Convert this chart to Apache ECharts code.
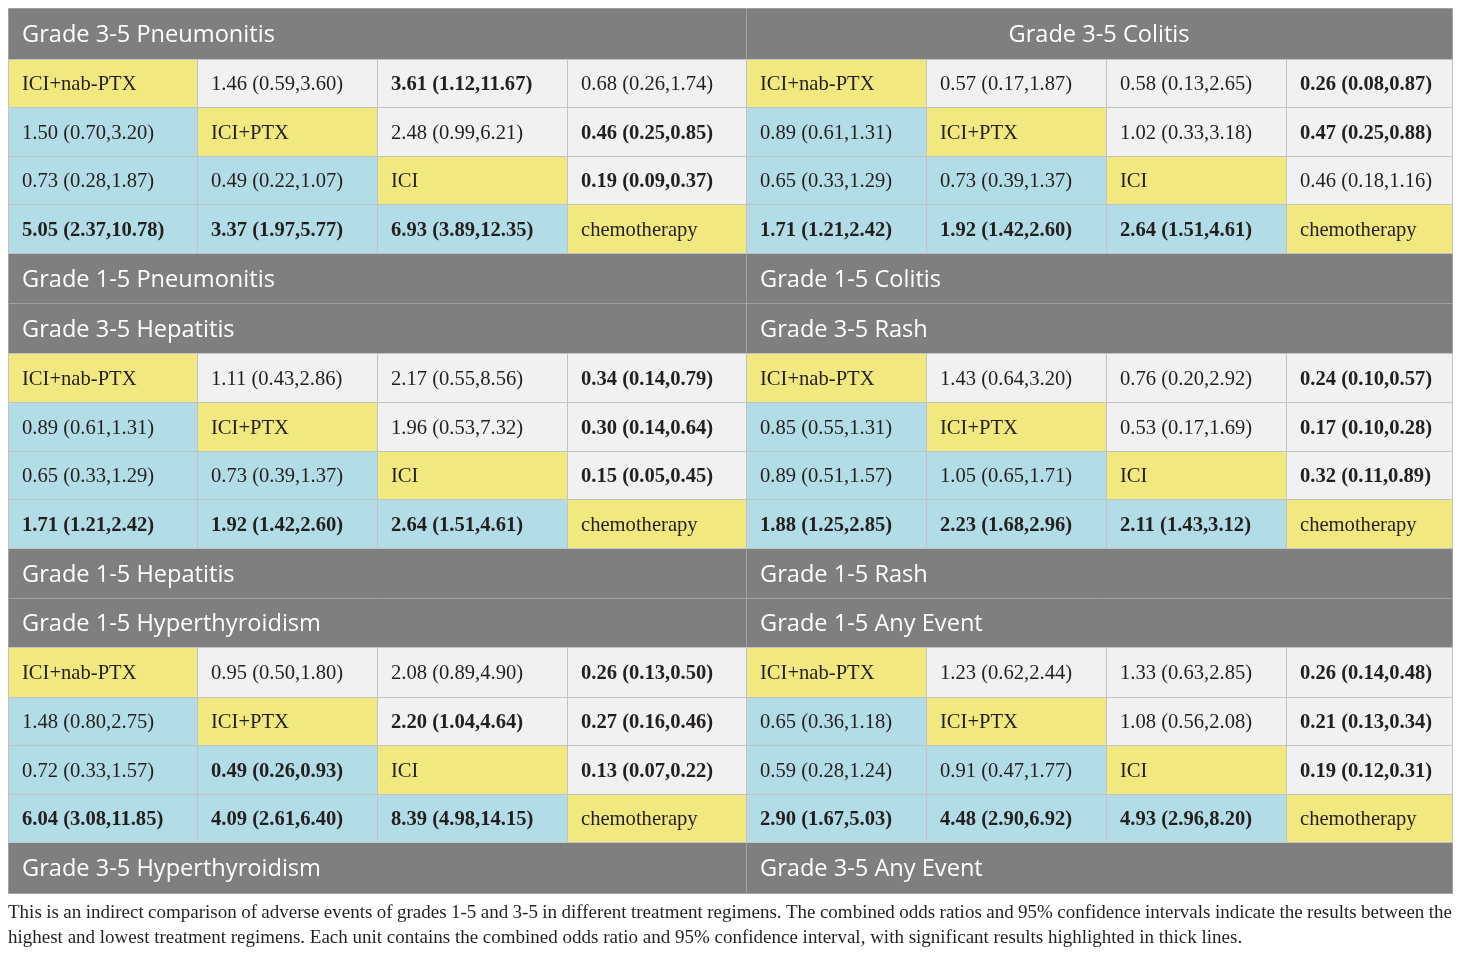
<!DOCTYPE html>
<html><head><meta charset="utf-8">
<script src="https://cdn.jsdelivr.net/npm/echarts@6/dist/echarts.min.js"></script>
<style>html,body{margin:0;padding:0;background:#fff}#c{width:1460px;height:955px}</style>
</head><body><div id="c"></div>
<script>
// ---------- DATA ----------
const treatments = ['ICI+nab-PTX', 'ICI+PTX', 'ICI', 'chemotherapy'];

// titles: [top header, bottom header] for each block
const leftTitles = [
  ['Grade 3-5 Pneumonitis', 'Grade 1-5 Pneumonitis'],
  ['Grade 3-5 Hepatitis', 'Grade 1-5 Hepatitis'],
  ['Grade 1-5 Hyperthyroidism', 'Grade 3-5 Hyperthyroidism']
];
const rightTitles = [
  ['Grade 3-5 Colitis', 'Grade 1-5 Colitis'],
  ['Grade 3-5 Rash', 'Grade 1-5 Rash'],
  ['Grade 1-5 Any Event', 'Grade 3-5 Any Event']
];

// odds ratio [OR, lower, upper]; null = diagonal (treatment name)
const pneumonitis = [
  [null, [1.46, 0.59, 3.60], [3.61, 1.12, 11.67], [0.68, 0.26, 1.74]],
  [[1.50, 0.70, 3.20], null, [2.48, 0.99, 6.21], [0.46, 0.25, 0.85]],
  [[0.73, 0.28, 1.87], [0.49, 0.22, 1.07], null, [0.19, 0.09, 0.37]],
  [[5.05, 2.37, 10.78], [3.37, 1.97, 5.77], [6.93, 3.89, 12.35], null]
];
const colitis = [
  [null, [0.57, 0.17, 1.87], [0.58, 0.13, 2.65], [0.26, 0.08, 0.87]],
  [[0.89, 0.61, 1.31], null, [1.02, 0.33, 3.18], [0.47, 0.25, 0.88]],
  [[0.65, 0.33, 1.29], [0.73, 0.39, 1.37], null, [0.46, 0.18, 1.16]],
  [[1.71, 1.21, 2.42], [1.92, 1.42, 2.60], [2.64, 1.51, 4.61], null]
];
const hepatitis = [
  [null, [1.11, 0.43, 2.86], [2.17, 0.55, 8.56], [0.34, 0.14, 0.79]],
  [[0.89, 0.61, 1.31], null, [1.96, 0.53, 7.32], [0.30, 0.14, 0.64]],
  [[0.65, 0.33, 1.29], [0.73, 0.39, 1.37], null, [0.15, 0.05, 0.45]],
  [[1.71, 1.21, 2.42], [1.92, 1.42, 2.60], [2.64, 1.51, 4.61], null]
];
const rash = [
  [null, [1.43, 0.64, 3.20], [0.76, 0.20, 2.92], [0.24, 0.10, 0.57]],
  [[0.85, 0.55, 1.31], null, [0.53, 0.17, 1.69], [0.17, 0.10, 0.28]],
  [[0.89, 0.51, 1.57], [1.05, 0.65, 1.71], null, [0.32, 0.11, 0.89]],
  [[1.88, 1.25, 2.85], [2.23, 1.68, 2.96], [2.11, 1.43, 3.12], null]
];
const hyperthyroidism = [
  [null, [0.95, 0.50, 1.80], [2.08, 0.89, 4.90], [0.26, 0.13, 0.50]],
  [[1.48, 0.80, 2.75], null, [2.20, 1.04, 4.64], [0.27, 0.16, 0.46]],
  [[0.72, 0.33, 1.57], [0.49, 0.26, 0.93], null, [0.13, 0.07, 0.22]],
  [[6.04, 3.08, 11.85], [4.09, 2.61, 6.40], [8.39, 4.98, 14.15], null]
];
const anyEvent = [
  [null, [1.23, 0.62, 2.44], [1.33, 0.63, 2.85], [0.26, 0.14, 0.48]],
  [[0.65, 0.36, 1.18], null, [1.08, 0.56, 2.08], [0.21, 0.13, 0.34]],
  [[0.59, 0.28, 1.24], [0.91, 0.47, 1.77], null, [0.19, 0.12, 0.31]],
  [[2.90, 1.67, 5.03], [4.48, 2.90, 6.92], [4.93, 2.96, 8.20], null]
];

const leftBlocks = [pneumonitis, hepatitis, hyperthyroidism];
const rightBlocks = [colitis, rash, anyEvent];

const captionLines = [
  'This is an indirect comparison of adverse events of grades 1-5 and 3-5 in different treatment regimens. The combined odds ratios and 95% confidence intervals indicate the results between the',
  'highest and lowest treatment regimens. Each unit contains the combined odds ratio and 95% confidence interval, with significant results highlighted in thick lines.'
];

// ---------- LAYOUT / STYLE ----------
const COL_W = [189, 180, 190, 179, 180, 180, 180, 166];
const ROW_H = [51, 48, 49, 48, 49, 50, 50, 49, 49, 48, 49, 50, 49, 50, 48, 49, 48, 51];
const colEdge = [0];
COL_W.forEach(w => colEdge.push(colEdge[colEdge.length - 1] + w));
const rowEdge = [0];
ROW_H.forEach(h => rowEdge.push(rowEdge[rowEdge.length - 1] + h));
const TOTAL_W = colEdge[colEdge.length - 1];
const TOTAL_H = rowEdge[rowEdge.length - 1];
const COLORS = { header: '#7f7f7f', diag: '#f1e87f', lower: '#b3dde6', upper: '#f1f1f1', border: '#c3c3c3', text: '#231f20' };
const SERIF = '"Liberation Serif", "DejaVu Serif", serif';
const SANS = '"Open Sans", "Noto Sans", sans-serif';

function fmt(v) {
  return v[0].toFixed(2) + ' (' + v[1].toFixed(2) + ',' + v[2].toFixed(2) + ')';
}

// build cell list (x0, x1 column edges; y0, y1 row edges)
const cells = [];
for (let b = 0; b < 3; b++) {
  const r0 = b * 6;
  [[leftTitles, leftBlocks, 0, 'left'], [rightTitles, rightBlocks, 4, 'right']].forEach(([titles, blocks, c0, side]) => {
    cells.push({ x0: colEdge[c0], x1: colEdge[c0 + 4], y0: rowEdge[r0], y1: rowEdge[r0 + 1], kind: 'header', text: titles[b][0],
      center: (side === 'right' && b === 0) });
    cells.push({ x0: colEdge[c0], x1: colEdge[c0 + 4], y0: rowEdge[r0 + 5], y1: rowEdge[r0 + 6], kind: 'header', text: titles[b][1], center: false });
    const m = blocks[b];
    for (let i = 0; i < 4; i++) {
      for (let j = 0; j < 4; j++) {
        const v = m[i][j];
        let kind, text, bold = false;
        if (i === j) { kind = 'diag'; text = treatments[i]; }
        else {
          kind = j > i ? 'upper' : 'lower';
          text = fmt(v);
          bold = v[1] > 1 || v[2] < 1;
        }
        cells.push({ x0: colEdge[c0 + j], x1: colEdge[c0 + j + 1], y0: rowEdge[r0 + 1 + i], y1: rowEdge[r0 + 2 + i], kind, text, bold });
      }
    }
  });
}

const chart = echarts.init(document.getElementById('c'), null, { renderer: 'canvas' });

// caption, justified first line
const ctx = document.createElement('canvas').getContext('2d');
const capFont = 19;
ctx.font = capFont + 'px "Liberation Serif"';
const graphics = [];
captionLines.forEach((line, li) => {
  const y = 913 + li * 25;
  if (li === 0) {
    const words = line.split(' ');
    const widths = words.map(w => ctx.measureText(w).width);
    const total = widths.reduce((a, b) => a + b, 0);
    const gap = (TOTAL_W - total) / (words.length - 1);
    let x = 8;
    words.forEach((w, k) => {
      graphics.push({ type: 'text', x: x, y: y, silent: true,
        style: { text: w, fontSize: capFont, fontFamily: SERIF, fill: COLORS.text, verticalAlign: 'middle', align: 'left' } });
      x += widths[k] + gap;
    });
  } else {
    graphics.push({ type: 'text', x: 8, y: y, silent: true,
      style: { text: line, fontSize: capFont, fontFamily: SERIF, fill: COLORS.text, verticalAlign: 'middle', align: 'left' } });
  }
});

chart.setOption({
  animation: false,
  grid: { left: 8, top: 8, width: TOTAL_W, height: TOTAL_H },
  xAxis: { type: 'value', min: 0, max: TOTAL_W, show: false },
  yAxis: { type: 'value', min: 0, max: TOTAL_H, inverse: true, show: false },
  graphic: graphics,
  series: [{
    type: 'custom',
    coordinateSystem: 'cartesian2d',
    data: cells.map(c => [c.x0, c.y0, c.x1, c.y1]),
    encode: { x: [0, 2], y: [1, 3] },
    renderItem: function (params, api) {
      const c = cells[params.dataIndex];
      const p0 = api.coord([api.value(0), api.value(1)]);
      const p1 = api.coord([api.value(2), api.value(3)]);
      const x = Math.round(p0[0]), y = Math.round(p0[1]);
      const w = Math.round(p1[0]) - x, h = Math.round(p1[1]) - y;
      const isHeader = c.kind === 'header';
      const children = [{
        type: 'rect',
        shape: { x: x + 0.5, y: y + 0.5, width: w, height: h },
        style: { fill: COLORS[c.kind], stroke: isHeader ? '#a0a0a0' : COLORS.border, lineWidth: 1 }
      }];
      children.push({
        type: 'text',
        x: c.center ? x + w / 2 : x + 14,
        y: y + h / 2 + 2,
        style: {
          text: c.text,
          fill: isHeader ? '#ffffff' : COLORS.text,
          fontSize: isHeader ? 23.6 : 20.6,
          fontFamily: isHeader ? SANS : SERIF,
          fontWeight: c.bold ? 'bold' : 'normal',
          align: c.center ? 'center' : 'left',
          verticalAlign: 'middle'
        }
      });
      return { type: 'group', children };
    }
  }]
});
</script>
</body></html>
